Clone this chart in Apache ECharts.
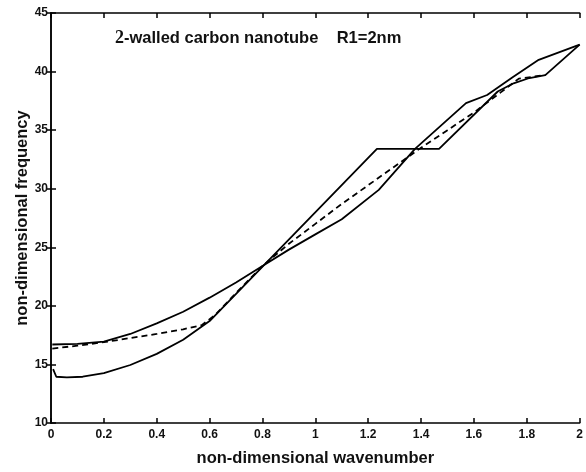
<!DOCTYPE html>
<html>
<head>
<meta charset="utf-8">
<script src="https://cdn.jsdelivr.net/npm/echarts@6/dist/echarts.min.js"></script>
<style>html,body{margin:0;padding:0;background:#fff}#c{width:586px;height:472px}</style>
</head>
<body>
<div id="c"></div>
<script>
// Upper-starting solid branch
const xA = [0.005,0.1,0.2,0.3,0.4,0.5,0.6,0.7,0.8,0.9,1.0,1.1,1.24,1.377,1.57,1.65,1.745,1.845,2.0];
const yA = [16.7,16.75,16.95,17.6,18.5,19.5,20.7,22.0,23.4,24.8,26.1,27.4,29.9,33.4,37.3,38.0,39.5,41.0,42.3];
// Lower-starting solid branch
const xB = [0.008,0.02,0.06,0.12,0.2,0.3,0.4,0.5,0.6,1.233,1.468,1.69,1.75,1.81,1.87,2.0];
const yB = [14.6,13.95,13.9,13.95,14.25,14.95,15.9,17.1,18.7,33.4,33.4,38.3,39.0,39.45,39.7,42.3];
// Dashed branch
const xD = [0.005,0.1,0.2,0.3,0.4,0.5,0.57,0.62,0.7,0.8,0.9,1.0,1.1,1.2,1.3,1.4,1.5,1.6,1.7,1.77,1.87];
const yD = [16.35,16.6,16.9,17.25,17.6,18.0,18.35,19.2,21.1,23.4,25.3,27.0,28.7,30.3,31.9,33.5,35.0,36.5,38.2,39.4,39.7];
const xTicks = [0,0.2,0.4,0.6,0.8,1,1.2,1.4,1.6,1.8,2];
const yTicks = [10,15,20,25,30,35,40,45];

const zip = (xs, ys) => xs.map((x, i) => [x, ys[i]]);
const font = '"Liberation Sans", Arial, sans-serif';
const axisLine = {show: true, lineStyle: {color: '#000', width: 1.5}};
const tick = {show: true, inside: true, length: 5, lineStyle: {color: '#000', width: 1.5}};
const lbl = {color: '#111', fontSize: 12, fontWeight: 'bold', fontFamily: font};

const chart = echarts.init(document.getElementById('c'), null, {renderer: 'canvas'});
chart.setOption({
  animation: false,
  backgroundColor: '#fff',
  grid: {left: 51, right: 5, top: 13, bottom: 41, containLabel: false},
  xAxis: [
    {type: 'value', min: 0, max: 2, interval: 0.2, position: 'bottom',
     axisLine, axisTick: tick, splitLine: {show: false},
     axisLabel: Object.assign({margin: 6, formatter: v => String(+v.toFixed(1))}, lbl),
     name: 'non-dimensional wavenumber', nameLocation: 'middle', nameGap: 27,
     nameTextStyle: {color: '#111', fontSize: 16.5, fontWeight: 'bold', fontFamily: font}},
    {type: 'value', min: 0, max: 2, interval: 0.2, position: 'top',
     axisLine, axisTick: tick, axisLabel: {show: false}, splitLine: {show: false}}
  ],
  yAxis: [
    {type: 'value', min: 10, max: 45, interval: 5, position: 'left',
     axisLine, axisTick: tick, splitLine: {show: false},
     axisLabel: Object.assign({margin: 3}, lbl),
     name: 'non-dimensional frequency', nameLocation: 'middle', nameGap: 20,
     nameMoveOverlap: false,
     nameTextStyle: {color: '#111', fontSize: 16.5, fontWeight: 'bold', fontFamily: font}},
    {type: 'value', min: 10, max: 45, interval: 5, position: 'right',
     axisLine, axisTick: tick, axisLabel: {show: false}, splitLine: {show: false}}
  ],
  graphic: [
    {type: 'text', left: 115, top: 29, style: {
      text: '{n|2}-walled carbon nanotube    R1=2nm',
      fill: '#111', font: 'bold 16.5px ' + font,
      rich: {n: {fontFamily: '"Liberation Serif", serif', fontSize: 18, fontWeight: 'bold', fill: '#111'}}
    }}
  ],
  series: [
    {type: 'line', data: zip(xA, yA), showSymbol: false, symbol: 'none',
     lineStyle: {color: '#000', width: 1.8}, z: 3},
    {type: 'line', data: zip(xB, yB), showSymbol: false, symbol: 'none',
     lineStyle: {color: '#000', width: 1.8}, z: 3},
    {type: 'line', data: zip(xD, yD), showSymbol: false, symbol: 'none',
     lineStyle: {color: '#000', width: 1.8, type: [6, 4]}, z: 2}
  ]
});
</script>
</body>
</html>
